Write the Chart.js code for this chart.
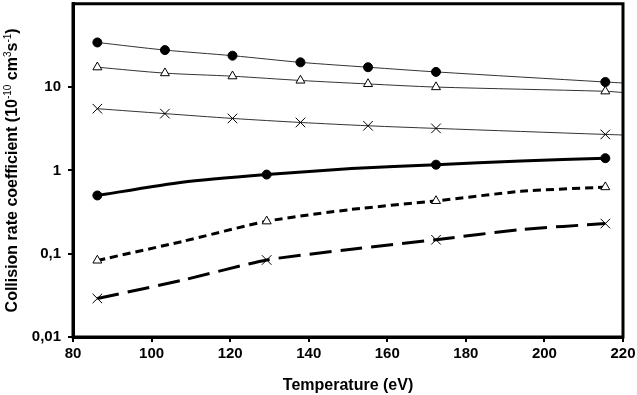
<!DOCTYPE html>
<html>
<head>
<meta charset="utf-8">
<script src="https://cdn.jsdelivr.net/npm/chart.js@4"></script>
<style>
  html, body { margin: 0; padding: 0; background: #fff; }
  #wrap { width: 637px; height: 395px; overflow: hidden; }
  #myChart { display: block; margin-top: -4px; }
</style>
</head>
<body>
<div id="wrap"><canvas id="myChart" width="637" height="399"></canvas></div>
<script>
// temperatures (eV)
const tempsThin = [86.2, 103.4, 120.6, 137.9, 155.1, 172.4, 215.5, 220];
const tempsThick = [86.2, 107.8, 129.3, 150.9, 172.4, 194.0, 215.5];

// thin lines (last value is the end of the line at 220, no marker)
const circleThin = [34.3, 27.8, 23.8, 19.8, 17.3, 15.2, 11.5, 11.2];
const triangleThin = [17.3, 14.7, 13.5, 12.0, 10.9, 10.0, 8.9, 8.6];
const crossThin = [5.5, 4.8, 4.2, 3.76, 3.43, 3.19, 2.7, 2.66];

// thick lines
const solidThick = [0.50, 0.72, 0.89, 1.05, 1.17, 1.30, 1.40];
const shortDash = [0.083, 0.14, 0.245, 0.34, 0.43, 0.56, 0.63];
const longDash = [0.029, 0.048, 0.084, 0.113, 0.147, 0.195, 0.23];

const xTicks = [80, 100, 120, 140, 160, 180, 200, 220];
const yTicks = [0.01, 0.1, 1, 10];
const yTickLabels = ['0,01', '0,1', '1', '10'];

const thinRadius = [4.5, 4.5, 4.5, 4.5, 4.5, 4.5, 4.5, 0];
const thickRadius = [4.5, 0, 4.5, 0, 4.5, 0, 4.5];

function pts(xs, ys) {
    return xs.map((x, i) => ({x: x, y: ys[i]}));
}
function scaleR(arr, k) { return arr.map(r => r * k); }

const FONT = "'Liberation Sans', Arial, sans-serif";

// box round the plot + y title with superscripts
const framePlugin = {
    id: 'frame',
    afterDraw(chart) {
        const ctx = chart.ctx;
        const a = chart.chartArea;
        ctx.save();
        ctx.strokeStyle = '#000';
        ctx.lineWidth = 3;
        ctx.strokeRect(a.left, a.top, a.right - a.left, a.bottom - a.top);
        ctx.restore();

        // y axis title
        const parts = [
            ['Collision rate coefficient (10', 0],
            ['-10', 1],
            [' cm', 0],
            ['3', 1],
            ['s', 0],
            ['-1', 1],
            [')', 0]
        ];
        const big = 'bold 16px ' + FONT, small = '10px ' + FONT;
        ctx.save();
        ctx.fillStyle = '#000';
        ctx.textBaseline = 'alphabetic';
        let total = 0;
        parts.forEach(p => {
            ctx.font = p[1] ? small : big;
            total += ctx.measureText(p[0]).width;
        });
        ctx.translate(17, (a.top + a.bottom) / 2);
        ctx.rotate(-Math.PI / 2);
        let x = -total / 2;
        parts.forEach(p => {
            ctx.font = p[1] ? small : big;
            ctx.fillText(p[0], x, p[1] ? -6 : 0);
            x += ctx.measureText(p[0]).width;
        });
        ctx.restore();
    }
};

var ctx = document.getElementById('myChart').getContext('2d');
var myChart = new Chart(ctx, {
    type: 'line',
    data: {
        datasets: [
            {
                data: pts(tempsThin, circleThin),
                borderColor: '#333', borderWidth: 1,
                pointStyle: 'circle', pointRadius: thinRadius,
                pointBackgroundColor: '#000', pointBorderColor: '#000', pointBorderWidth: 1,
                tension: 0.3
            },
            {
                data: pts(tempsThin, triangleThin),
                borderColor: '#333', borderWidth: 1,
                pointStyle: 'triangle', pointRadius: scaleR(thinRadius, 1.15),
                pointBackgroundColor: '#fff', pointBorderColor: '#000', pointBorderWidth: 1,
                tension: 0.3
            },
            {
                data: pts(tempsThin, crossThin),
                borderColor: '#333', borderWidth: 1,
                pointStyle: 'crossRot', pointRadius: scaleR(thinRadius, 1.5),
                pointBorderColor: '#000', pointBorderWidth: 1,
                tension: 0.3
            },
            {
                data: pts(tempsThick, solidThick),
                borderColor: '#000', borderWidth: 3,
                pointStyle: 'circle', pointRadius: thickRadius,
                pointBackgroundColor: '#000', pointBorderColor: '#000', pointBorderWidth: 1,
                tension: 0.2
            },
            {
                data: pts(tempsThick, shortDash),
                borderColor: '#000', borderWidth: 3, borderDash: [8, 5],
                pointStyle: 'triangle', pointRadius: scaleR(thickRadius, 1.15),
                pointBackgroundColor: '#fff', pointBorderColor: '#000', pointBorderWidth: 1,
                tension: 0.2
            },
            {
                data: pts(tempsThick, longDash),
                borderColor: '#000', borderWidth: 3, borderDash: [22, 9],
                pointStyle: 'crossRot', pointRadius: scaleR(thickRadius, 1.5),
                pointBorderColor: '#000', pointBorderWidth: 1,
                tension: 0.2
            }
        ]
    },
    options: {
        responsive: false,
        animation: false,
        events: [],
        layout: { padding: { left: 0, top: 2, right: 14, bottom: 0 } },
        plugins: {
            legend: { display: false },
            tooltip: { enabled: false }
        },
        scales: {
            x: {
                type: 'linear',
                min: 80, max: 220,
                afterBuildTicks: (scale) => { scale.ticks = xTicks.map(v => ({value: v})); },
                afterFit: (scale) => { scale.height = 58; scale.paddingLeft = 0; scale.paddingRight = 0; },
                grid: { display: true, drawOnChartArea: false, drawTicks: true, tickLength: 5, color: '#000', lineWidth: 2 },
                border: { display: true, color: '#000', width: 3 },
                ticks: {
                    color: '#000', padding: 3, maxRotation: 0,
                    font: { family: FONT, size: 15, weight: 'bold' },
                    callback: (v) => String(v)
                },
                title: {
                    display: true, text: 'Temperature (eV)', color: '#000',
                    font: { family: FONT, size: 16, weight: 'bold' },
                    padding: { top: 0, bottom: 0 }
                }
            },
            y: {
                type: 'logarithmic',
                min: 0.01, max: 100,
                afterBuildTicks: (scale) => { scale.ticks = yTicks.map(v => ({value: v})); },
                afterFit: (scale) => { scale.width = 73; scale.paddingTop = 0; scale.paddingBottom = 0; },
                grid: { display: true, drawOnChartArea: false, drawTicks: true, tickLength: 5, color: '#000', lineWidth: 2 },
                border: { display: true, color: '#000', width: 3 },
                ticks: {
                    color: '#000', padding: 7,
                    font: { family: FONT, size: 15, weight: 'bold' },
                    callback: (v) => yTickLabels[yTicks.indexOf(v)] || ''
                }
            }
        }
    },
    plugins: [framePlugin]
});
</script>
</body>
</html>
